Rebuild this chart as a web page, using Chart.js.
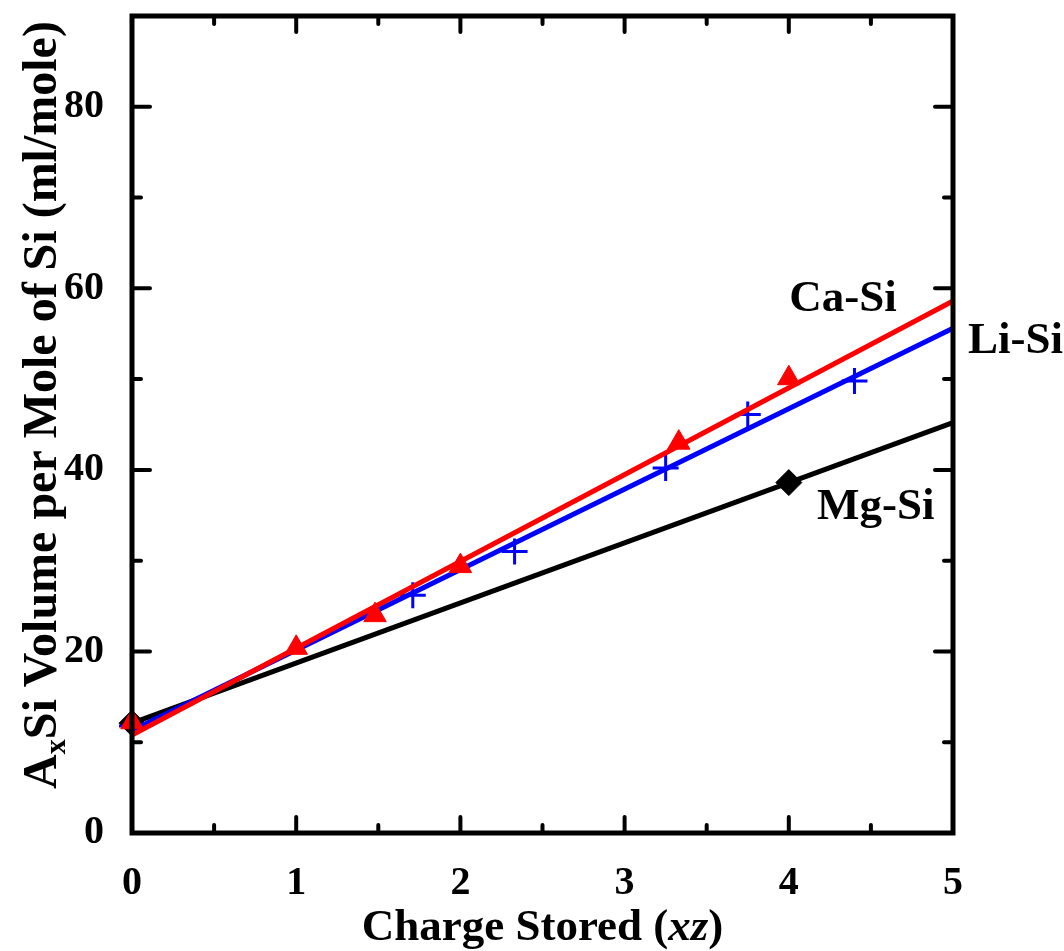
<!DOCTYPE html>
<html>
<head>
<meta charset="utf-8">
<script src="https://cdn.jsdelivr.net/npm/chart.js@4/dist/chart.umd.min.js"></script>
<style>
  html, body { margin: 0; padding: 0; background: #fff; }
  #wrap { width: 1064px; height: 951px; }
</style>
</head>
<body>
<div id="wrap"><canvas id="chart"></canvas></div>
<script>
// measured points (charge stored xz, volume ml/mole)
let mgX = [0, 4];
let mgY = [12.1, 38.6];
let liX = [0, 1.71, 2.33, 3.25, 3.75, 4.4];
let liY = [11.8, 26.2, 31.0, 40.2, 46.1, 49.8];
let caX = [0, 1, 1.48, 2, 3.33, 4];
let caY = [12.2, 20.4, 24.0, 29.4, 43.0, 50.1];

// linear fit lines, read at x = 0 and x = 5
let fitX = [0, 5];
let mgFit = [12.1, 45.2];
let liFit = [11.3, 55.6];
let caFit = [10.8, 58.6];

let xTicks = [0, 1, 2, 3, 4, 5];
let yTicks = [0, 20, 40, 60, 80];

let seriesLabels = [
  { text: "Ca-Si", x: 4.33, y: 58.8 },
  { text: "Li-Si", x: 5.38, y: 54.2 },
  { text: "Mg-Si", x: 4.53, y: 35.9 }
];

const FONT = '"Liberation Serif", "Times New Roman", serif';

function pts(xs, ys) {
  return xs.map((x, i) => ({ x: x, y: ys[i] }));
}

// frame, inward ticks, axis titles and series names
const framePlugin = {
  id: "frame",
  afterDatasetsDraw(chart) {
    const ctx = chart.ctx;
    const a = chart.chartArea;
    const xs = chart.scales.x;
    const ys = chart.scales.y;
    ctx.save();
    ctx.strokeStyle = "#000";
    ctx.lineCap = "round";
    ctx.lineWidth = 4;
    for (let v = 0.5; v < 5; v += 0.5) {
      let px = xs.getPixelForValue(v);
      let len = (v % 1 === 0) ? 16 : 8;
      ctx.beginPath();
      ctx.moveTo(px, a.bottom); ctx.lineTo(px, a.bottom - len);
      ctx.moveTo(px, a.top); ctx.lineTo(px, a.top + len);
      ctx.stroke();
    }
    for (let v = 10; v < 90; v += 10) {
      let py = ys.getPixelForValue(v);
      let len = (v % 20 === 0) ? 18 : 9;
      ctx.beginPath();
      ctx.moveTo(a.left, py); ctx.lineTo(a.left + len, py);
      ctx.moveTo(a.right, py); ctx.lineTo(a.right - len, py);
      ctx.stroke();
    }
    ctx.lineCap = "square";
    ctx.lineWidth = 5;
    ctx.strokeRect(a.left, a.top, a.right - a.left, a.bottom - a.top);

    ctx.fillStyle = "#000";
    ctx.textBaseline = "middle";
    ctx.textAlign = "center";
    ctx.font = "bold 45px " + FONT;
    seriesLabels.forEach(l => {
      ctx.fillText(l.text, xs.getPixelForValue(l.x), ys.getPixelForValue(l.y));
    });

    // x title with italic xz
    let parts = [
      { t: "Charge Stored (", f: "bold 45px " + FONT },
      { t: "xz", f: "bold italic 45px " + FONT },
      { t: ")", f: "bold 45px " + FONT }
    ];
    let total = 0;
    parts.forEach(p => { ctx.font = p.f; p.w = ctx.measureText(p.t).width; total += p.w; });
    let cx = (a.left + a.right) / 2 - total / 2;
    ctx.textAlign = "left";
    ctx.textBaseline = "alphabetic";
    parts.forEach(p => { ctx.font = p.f; ctx.fillText(p.t, cx, 940); cx += p.w; });

    // y title with subscript x
    ctx.save();
    ctx.translate(56, 405);
    ctx.rotate(-Math.PI / 2);
    let yParts = [
      { t: "A", f: "bold 48px " + FONT, dy: 0 },
      { t: "x", f: "bold 30px " + FONT, dy: 9 },
      { t: "Si Volume per Mole of Si (ml/mole)", f: "bold 48px " + FONT, dy: 0 }
    ];
    total = 0;
    yParts.forEach(p => { ctx.font = p.f; p.w = ctx.measureText(p.t).width; total += p.w; });
    cx = -total / 2;
    yParts.forEach(p => { ctx.font = p.f; ctx.fillText(p.t, cx, p.dy); cx += p.w; });
    ctx.restore();
    ctx.restore();
  }
};

new Chart(document.getElementById("chart"), {
  type: "scatter",
  data: {
    datasets: [
      { label: "Ca-Si fit", data: pts(fitX, caFit), showLine: true, borderColor: "#ff0000", borderWidth: 5, pointRadius: 0, order: 1 },
      { label: "Ca-Si", data: pts(caX, caY), pointStyle: "triangle", pointRadius: 13, backgroundColor: "#ff0000", borderColor: "#ff0000", borderWidth: 1, order: 0 },
      { label: "Li-Si fit", data: pts(fitX, liFit), showLine: true, borderColor: "#0000ff", borderWidth: 5, pointRadius: 0, order: 3 },
      { label: "Li-Si", data: pts(liX, liY), pointStyle: "cross", pointRadius: 13, borderColor: "#0000ff", borderWidth: 3, order: 2 },
      { label: "Mg-Si fit", data: pts(fitX, mgFit), showLine: true, borderColor: "#000000", borderWidth: 5, pointRadius: 0, order: 5 },
      { label: "Mg-Si", data: pts(mgX, mgY), pointStyle: "rectRot", pointRadius: 13, backgroundColor: "#000000", borderColor: "#000000", borderWidth: 1, order: 4 }
    ]
  },
  options: {
    responsive: true,
    maintainAspectRatio: false,
    animation: false,
    layout: { padding: { top: 14, right: 111, left: 0, bottom: 0 } },
    plugins: { legend: { display: false }, tooltip: { enabled: false } },
    clip: false,
    scales: {
      x: {
        type: "linear",
        min: 0, max: 5,
        afterBuildTicks: s => { s.ticks = xTicks.map(v => ({ value: v })); },
        afterFit: s => { s.height = 118; s.paddingLeft = 0; s.paddingRight = 0; },
        grid: { display: false },
        border: { display: false },
        ticks: { color: "#000", padding: 19, font: { family: FONT, size: 40, weight: "bold" } }
      },
      y: {
        type: "linear",
        min: 0, max: 90,
        afterBuildTicks: s => { s.ticks = yTicks.map(v => ({ value: v })); },
        afterFit: s => { s.width = 132; s.paddingTop = 0; s.paddingBottom = 0; },
        grid: { display: false },
        border: { display: false },
        ticks: { color: "#000", padding: 20, font: { family: FONT, size: 40, weight: "bold" } }
      }
    }
  },
  plugins: [framePlugin]
});
</script>
</body>
</html>
